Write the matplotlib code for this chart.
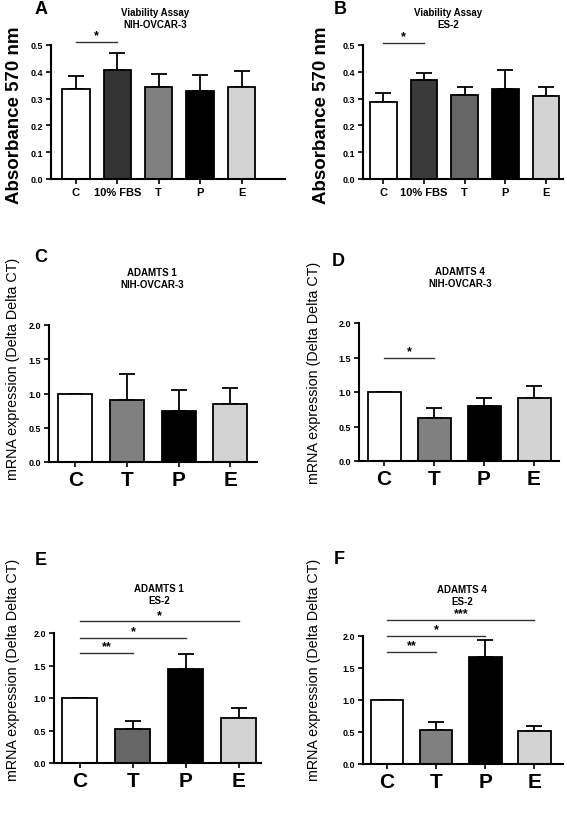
import numpy as np
import matplotlib
matplotlib.use("Agg")
import matplotlib.pyplot as plt

plt.rcParams['font.family'] = ['Liberation Sans', 'DejaVu Sans']

# Viability assay (absorbance 570 nm)
via_labels = ["C", "10% FBS", "T", "P", "E"]
via_nih = [0.334, 0.405, 0.342, 0.327, 0.343]
via_nih_err = [0.051, 0.066, 0.049, 0.060, 0.060]
via_es2 = [0.288, 0.370, 0.312, 0.337, 0.311]
via_es2_err = [0.032, 0.025, 0.032, 0.069, 0.033]

# mRNA expression (Delta Delta CT)
mrna_labels = ["C", "T", "P", "E"]
adamts1_nih = [1.00, 0.90, 0.75, 0.845]
adamts1_nih_err = [0.0, 0.38, 0.30, 0.235]
adamts4_nih = [1.00, 0.62, 0.79, 0.92]
adamts4_nih_err = [0.0, 0.15, 0.13, 0.16]
adamts1_es2 = [1.00, 0.52, 1.44, 0.69]
adamts1_es2_err = [0.0, 0.13, 0.23, 0.15]
adamts4_es2 = [1.00, 0.53, 1.67, 0.52]
adamts4_es2_err = [0.0, 0.13, 0.26, 0.07]

# significance brackets: (from, to, height, stars)
sig_a = [(0, 1, 0.511, "*")]
sig_b = [(0, 1, 0.509, "*")]
sig_d = [(0, 1, 1.49, "*")]
sig_e = [(0, 1, 1.69, "**"), (0, 2, 1.93, "*"), (0, 3, 2.18, "*")]
sig_f = [(0, 1, 1.75, "**"), (0, 2, 2.00, "*"), (0, 3, 2.25, "***")]

W, H = 567, 829
fig = plt.figure(figsize=(W / 100, H / 100), dpi=100)


def box(x0, x1, ytop, ybot):
    # axes rectangle from pixel edges
    return [x0 / W, 1 - ybot / H, (x1 - x0) / W, (ybot - ytop) / H]


def panel(rect, labels, vals, errs, colors, xlim, ylim, yticks, xt_size,
          sigs, star_off):
    ax = fig.add_axes(rect)
    x = np.arange(len(labels))
    ax.bar(x, vals, width=0.66, color=colors, edgecolor="black",
           linewidth=1.3, zorder=2)
    ax.errorbar(x, vals, yerr=[np.zeros(len(vals)), errs], fmt="none",
                ecolor="black", elinewidth=1.3, capsize=5.5, capthick=1.3,
                zorder=1)
    ax.set_xlim(*xlim)
    ax.set_ylim(*ylim)
    ax.set_yticks(yticks)
    ax.set_yticklabels(["{:.1f}".format(t) for t in yticks],
                       fontsize=6.5, fontweight="bold")
    ax.set_xticks(x)
    ax.set_xticklabels(labels, fontsize=xt_size, fontweight="bold")
    for s in ["top", "right"]:
        ax.spines[s].set_visible(False)
    for s in ["left", "bottom"]:
        ax.spines[s].set_linewidth(1.5)
    ax.tick_params(axis="both", width=1.2, length=3.5, pad=2)
    for i0, i1, h, st in sigs:
        ax.plot([i0, i1], [h, h], color="#333333", lw=1.0, clip_on=False)
        ax.text((i0 + i1) / 2, h + star_off, st, ha="center", va="center",
                fontsize=9, fontweight="bold", clip_on=False)
    return ax


gray_a = ["white", "#333333", "#808080", "black", "#d3d3d3"]
gray_b = ["white", "#3a3a3a", "#666666", "black", "#d3d3d3"]
gray_m = ["white", "#808080", "black", "#d3d3d3"]
gray_e = ["white", "#666666", "black", "#d3d3d3"]

vt = [0.0, 0.1, 0.2, 0.3, 0.4, 0.5]
mt = [0.0, 0.5, 1.0, 1.5, 2.0]

panel(box(51, 285, 46, 180), via_labels, via_nih, via_nih_err, gray_a,
      (-0.6, 5.05), (0, 0.5), vt, 8, sig_a, 0.025)
panel(box(363, 563, 46, 180), via_labels, via_es2, via_es2_err, gray_b,
      (-0.5, 4.42), (0, 0.5), vt, 8, sig_b, 0.025)
panel(box(49, 257, 326, 463), mrna_labels, adamts1_nih, adamts1_nih_err,
      gray_m, (-0.51, 3.52), (0, 2), mt, 15, [], 0.1)
panel(box(359, 559, 324, 462), mrna_labels, adamts4_nih, adamts4_nih_err,
      gray_m, (-0.5, 3.5), (0, 2), mt, 15, sig_d, 0.1)
panel(box(54, 261, 634, 764), mrna_labels, adamts1_es2, adamts1_es2_err,
      gray_e, (-0.49, 3.42), (0, 2), mt, 15, sig_e, 0.1)
panel(box(363, 563, 637, 765), mrna_labels, adamts4_es2, adamts4_es2_err,
      gray_m, (-0.49, 3.58), (0, 2), mt, 15, sig_f, 0.1)

# titles placed in figure pixels
titles = [("Viability Assay\nNIH-OVCAR-3", 155, 19), ("Viability Assay\nES-2", 448, 19),
          ("ADAMTS 1\nNIH-OVCAR-3", 152, 279), ("ADAMTS 4\nNIH-OVCAR-3", 460, 278),
          ("ADAMTS 1\nES-2", 159, 595), ("ADAMTS 4\nES-2", 462, 596)]
for t, x, y in titles:
    fig.text(x / W, 1 - y / H, t, ha="center", va="center", fontsize=7,
             fontweight="bold", linespacing=1.25)

# panel letters
letters = [("A", 41, 10), ("B", 340, 10), ("C", 41, 257), ("D", 338, 261),
           ("E", 41, 561), ("F", 339, 560)]
for t, x, y in letters:
    fig.text(x / W, 1 - y / H, t, ha="center", va="center", fontsize=13,
             fontweight="bold")

# y axis labels
ylabs = [("Absorbance 570 nm", 15, 115, 13.5, "bold"),
         ("Absorbance 570 nm", 322, 115, 13.5, "bold"),
         ("mRNA expression (Delta Delta CT)", 13, 369, 10.3, "normal"),
         ("mRNA expression (Delta Delta CT)", 314, 373, 10.3, "normal"),
         ("mRNA expression (Delta Delta CT)", 13, 670, 10.3, "normal"),
         ("mRNA expression (Delta Delta CT)", 314, 670, 10.3, "normal")]
for t, x, y, fs, fw in ylabs:
    fig.text(x / W, 1 - y / H, t, ha="center", va="center", rotation=90,
             fontsize=fs, fontweight=fw)

fig.savefig("out.png", dpi=100)
